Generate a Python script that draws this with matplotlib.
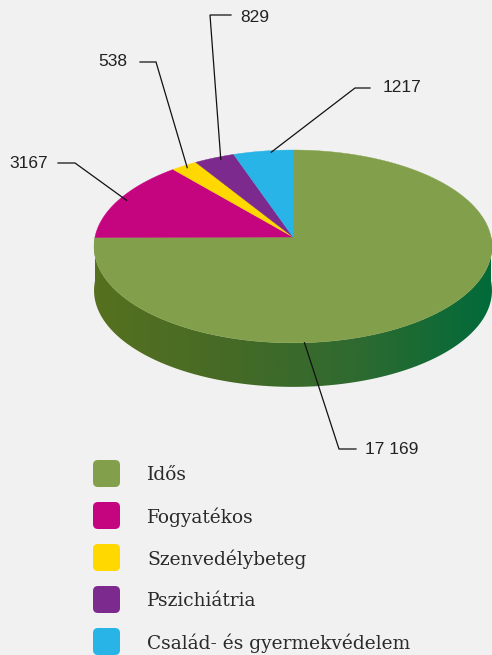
import numpy as np
import matplotlib
matplotlib.use("Agg")
import matplotlib.pyplot as plt
from matplotlib.patches import Polygon, FancyBboxPatch
from matplotlib.colors import LinearSegmentedColormap

# ---- data ----
categories = ["Idős", "Fogyatékos", "Szenvedélybeteg", "Pszichiátria", "Család- és gyermekvédelem"]
values = [17169, 3167, 538, 829, 1217]
value_labels = ["17 169", "3167", "538", "829", "1217"]
colors = ["#82A04C", "#C5047F", "#FFD800", "#7C2A8E", "#29B4E7"]

# ---- layout ----
W, H = 492, 655
cx, apex_y = 293, 237      # pie centre (pixels)
A, B, K = 95.5, 198.0, 0.098   # simple perspective projection of the disc
depth = 44
BG = "#F1F1F1"
# label layout: (text x, text y, elbow-end x, elbow x, elbow y, ha)
label_layout = [
    (365, 450, 356, 339, 449, "left"),
    (48, 163, 58, 75, 163, "right"),
    (127, 62, 140, 156, 62, "right"),
    (240, 17, 231, 210, 15, "left"),
    (383, 88, 370, 355, 88, "left"),
]
anchor_frac = [1.0, 0.96, 0.97, 0.97, 0.98]
anchor_shift = [0.0, 0.0, 0.0, -1.5, -2.5]
green_anchor_angle = -87.0

fig = plt.figure(figsize=(W / 100, H / 100), dpi=100, facecolor=BG)
ax = fig.add_axes([0, 0, 1, 1])
ax.set_xlim(0, W)
ax.set_ylim(H, 0)
ax.axis("off")
ax.set_facecolor(BG)


def pt(theta_deg, r=1.0):
    t = np.radians(theta_deg)
    c, s = r * np.cos(t), r * np.sin(t)
    d = 1 + K * s
    return cx + B * c / d, apex_y - A * s / d


# ---- side (front half, green) ----
ts = np.linspace(180, 360, 240)
top_edge = np.array([pt(t) for t in ts])
bottom_edge = top_edge[::-1] + np.array([0, depth])
side_poly = np.vstack([top_edge, bottom_edge])
side_patch = Polygon(side_poly, closed=True, facecolor="none", edgecolor="none")
ax.add_patch(side_patch)
cmap = LinearSegmentedColormap.from_list("side", ["#56711F", "#466A26", "#2E6A30", "#006B3A"])
grad = np.linspace(0, 1, 256).reshape(1, -1)
im = ax.imshow(grad, cmap=cmap, extent=(cx - B - 3, cx + B + 3, 400, 220),
               aspect="auto", zorder=1)
im.set_clip_path(side_patch)
ax.set_xlim(0, W)
ax.set_ylim(H, 0)

# ---- top wedges ----
total = float(sum(values))
start = 90.0
mids = []
for v, c in zip(values, colors):
    span = v / total * 360.0
    end = start - span
    n = max(int(span), 3) * 2
    arc = np.array([pt(t) for t in np.linspace(start, end, n)])
    poly = np.vstack([[cx, apex_y], arc])
    ax.add_patch(Polygon(poly, closed=True, facecolor=c, edgecolor=c, lw=0.3, zorder=2))
    mids.append((start + end) / 2.0)
    start = end

# ---- labels ----
num_font = dict(family=["Liberation Sans", "DejaVu Sans"], fontsize=12.5, color="#222222")
for i, (lab, mid) in enumerate(zip(value_labels, mids)):
    tx, ty, ex, bx, by, ha = label_layout[i]
    if i == 0:
        ax0, ay0 = pt(green_anchor_angle)
    else:
        ax0, ay0 = pt(mid + anchor_shift[i], anchor_frac[i])
    ax.plot([ax0, bx, ex], [ay0, by, by], color="#111111", lw=0.9, zorder=4,
            solid_joinstyle="miter")
    ax.text(tx, ty, lab, ha=ha, va="center", zorder=5, **num_font)

# ---- legend ----
leg_font = dict(family=["DejaVu Serif"], fontsize=13.4, color="#2A2A2A")
for i, (cat, c) in enumerate(zip(categories, colors)):
    yc = 473.5 + i * 42
    ax.add_patch(FancyBboxPatch((93 + 5, yc - 13.5 + 5), 27 - 10, 27 - 10,
                                boxstyle="round,pad=5", facecolor=c, edgecolor="none", zorder=3))
    ax.text(147, yc + 1.5, cat, ha="left", va="center", zorder=5, **leg_font)

fig.savefig("out.png", dpi=100, facecolor=BG)
